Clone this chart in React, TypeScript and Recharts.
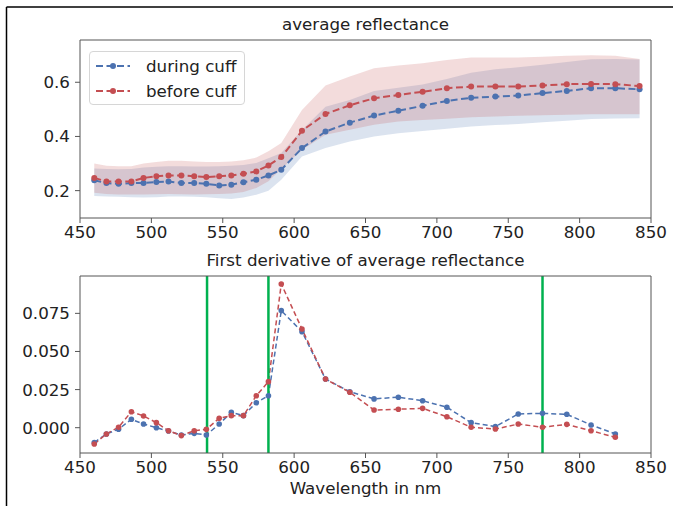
import React from 'react';
import {
	Area,
	ComposedChart,
	Line,
	ReferenceLine,
	XAxis,
	YAxis,
} from 'recharts';

// wavelengths (nm) of the sampled bands
const wavelengths = [
	460, 468.5, 477, 486, 494.5, 503.5, 512, 521, 530, 538.5, 547.5, 556, 564.5,
	573.5, 582, 591, 605.5, 622, 639, 656, 673, 690, 707, 724, 741, 757, 774,
	791, 808, 825, 842,
];

const duringMean = [
	0.238, 0.228, 0.225, 0.228, 0.228, 0.232, 0.234, 0.228, 0.228, 0.225, 0.219,
	0.222, 0.231, 0.24, 0.256, 0.277, 0.357, 0.418, 0.451, 0.477, 0.495, 0.513,
	0.531, 0.543, 0.547, 0.551, 0.56, 0.568, 0.578, 0.578, 0.574,
];
const duringHigh = [
	0.282, 0.28, 0.279, 0.28, 0.285, 0.288, 0.29, 0.29, 0.289, 0.289, 0.29,
	0.292, 0.295, 0.302, 0.32, 0.339, 0.424, 0.51, 0.535, 0.568, 0.58, 0.592,
	0.612, 0.635, 0.648, 0.655, 0.665, 0.675, 0.685, 0.686, 0.684,
];
const duringLow = [
	0.18, 0.178, 0.177, 0.176, 0.175, 0.176, 0.178, 0.178, 0.177, 0.176, 0.172,
	0.169, 0.175, 0.185, 0.2, 0.24, 0.326, 0.357, 0.381, 0.4, 0.412, 0.42,
	0.428, 0.437, 0.442, 0.446, 0.452, 0.458, 0.464, 0.466, 0.467,
];

const beforeMean = [
	0.247, 0.234, 0.234, 0.234, 0.247, 0.253, 0.256, 0.256, 0.253, 0.25, 0.253,
	0.256, 0.262, 0.271, 0.293, 0.324, 0.421, 0.483, 0.515, 0.541, 0.553, 0.565,
	0.578, 0.584, 0.584, 0.584, 0.588, 0.593, 0.594, 0.593, 0.586,
];
const beforeHigh = [
	0.3, 0.292, 0.29, 0.29, 0.3, 0.306, 0.31, 0.31, 0.308, 0.306, 0.306, 0.308,
	0.312, 0.322, 0.345, 0.376, 0.498, 0.588, 0.621, 0.652, 0.662, 0.67, 0.682,
	0.691, 0.691, 0.691, 0.694, 0.698, 0.7, 0.698, 0.686,
];
const beforeLow = [
	0.192, 0.188, 0.186, 0.186, 0.186, 0.187, 0.188, 0.187, 0.186, 0.187, 0.188,
	0.189, 0.195, 0.21, 0.235, 0.28, 0.351, 0.406, 0.425, 0.443, 0.455, 0.461,
	0.465, 0.471, 0.474, 0.476, 0.478, 0.48, 0.482, 0.482, 0.482,
];

// first derivative, one value fewer than the reflectance
const duringDeriv = [
	-0.0098, -0.0041, -0.001, 0.0055, 0.0024, 0.0, -0.0022, -0.0048, -0.0037,
	-0.0048, 0.0024, 0.0101, 0.0079, 0.0164, 0.021, 0.0768, 0.063, 0.0319,
	0.0236, 0.0189, 0.02, 0.0177, 0.0134, 0.0033, 0.0007, 0.009, 0.0094,
	0.0088, 0.0018, -0.0041,
];
const beforeDeriv = [
	-0.0107, -0.0041, 0.0003, 0.0105, 0.0077, 0.0033, -0.002, -0.0052, -0.002,
	-0.0011, 0.0062, 0.0079, 0.0079, 0.021, 0.0302, 0.0943, 0.0647, 0.0319,
	0.0232, 0.0116, 0.0121, 0.0127, 0.0072, 0.0003, -0.0009, 0.0024, 0.0003,
	0.0022, -0.002, -0.0063,
];

const markerLines = [539, 582, 774];
const xDomain = [450, 850];
const xTicks = [450, 500, 550, 600, 650, 700, 750, 800, 850];
const topDomain = [0.099, 0.756];
const topTicks = [0.2, 0.4, 0.6];
const bottomDomain = [-0.0166, 0.0995];
const bottomTicks = [0, 0.025, 0.05, 0.075];

const BLUE = '#4c72b0';
const RED = '#c44e52';
const GREEN = '#00b14f';
const SPINE = '#555';
const FONT = 'DejaVu Sans, sans-serif';
const FS = 16.7;

const series = [
	{ name: 'during cuff', color: BLUE },
	{ name: 'before cuff', color: RED },
];

const topData = wavelengths.map((w, i) => ({
	w,
	during: duringMean[i],
	before: beforeMean[i],
	duringBand: [duringLow[i], duringHigh[i]],
	beforeBand: [beforeLow[i], beforeHigh[i]],
}));

const bottomData = duringDeriv.map((d, i) => ({
	w: wavelengths[i],
	during: d,
	before: beforeDeriv[i],
}));

const tickStyle = { fontSize: FS, fill: '#222', fontFamily: FONT };

// top + right spines, drawn at the domain edges
const boxLines = (yTop: number) => [
	<ReferenceLine key="sx" x={xDomain[1]} stroke={SPINE} strokeWidth={1} />,
	<ReferenceLine key="sy" y={yTop} stroke={SPINE} strokeWidth={1} />,
];

const TopChart = () => (
	<ComposedChart
		width={673}
		height={248}
		data={topData}
		margin={{ top: 40, right: 22, bottom: 0, left: 0 }}
	>
		<XAxis
			type="number"
			dataKey="w"
			domain={xDomain}
			ticks={xTicks}
			allowDataOverflow
			height={30}
			tickSize={5}
			tickMargin={3}
			tick={tickStyle}
			stroke={SPINE}
		/>
		<YAxis
			type="number"
			domain={topDomain}
			ticks={topTicks}
			allowDataOverflow
			width={80}
			tickSize={5}
			tickMargin={5}
			tick={tickStyle}
			stroke={SPINE}
			tickFormatter={(v: number) => v.toFixed(1)}
		/>
		<Area
			type="linear"
			dataKey="duringBand"
			fill={BLUE}
			fillOpacity={0.2}
			stroke="none"
			isAnimationActive={false}
		/>
		<Area
			type="linear"
			dataKey="beforeBand"
			fill={RED}
			fillOpacity={0.2}
			stroke="none"
			isAnimationActive={false}
		/>
		<Line
			type="linear"
			dataKey="during"
			stroke={BLUE}
			strokeWidth={2}
			strokeDasharray="7 3.5"
			dot={{ r: 3, fill: BLUE, stroke: 'none' }}
			isAnimationActive={false}
		/>
		<Line
			type="linear"
			dataKey="before"
			stroke={RED}
			strokeWidth={2}
			strokeDasharray="7 3.5"
			dot={{ r: 3, fill: RED, stroke: 'none' }}
			isAnimationActive={false}
		/>
		{boxLines(topDomain[1])}
	</ComposedChart>
);

const BottomChart = () => (
	<ComposedChart
		width={673}
		height={247}
		data={bottomData}
		margin={{ top: 40, right: 22, bottom: 0, left: 0 }}
	>
		<XAxis
			type="number"
			dataKey="w"
			domain={xDomain}
			ticks={xTicks}
			allowDataOverflow
			height={30}
			tickSize={5}
			tickMargin={3}
			tick={tickStyle}
			stroke={SPINE}
		/>
		<YAxis
			type="number"
			domain={bottomDomain}
			ticks={bottomTicks}
			allowDataOverflow
			width={80}
			tickSize={5}
			tickMargin={5}
			tick={tickStyle}
			stroke={SPINE}
			tickFormatter={(v: number) => v.toFixed(3)}
		/>
		<Line
			type="linear"
			dataKey="during"
			stroke={BLUE}
			strokeWidth={1.5}
			strokeDasharray="5 3"
			dot={{ r: 2.8, fill: BLUE, stroke: 'none' }}
			isAnimationActive={false}
		/>
		<Line
			type="linear"
			dataKey="before"
			stroke={RED}
			strokeWidth={1.5}
			strokeDasharray="5 3"
			dot={{ r: 2.8, fill: RED, stroke: 'none' }}
			isAnimationActive={false}
		/>
		{markerLines.map((x) => (
			<ReferenceLine
				key={x}
				x={x}
				stroke={GREEN}
				strokeWidth={2.5}
			/>
		))}
		{boxLines(bottomDomain[1])}
	</ComposedChart>
);

const LegendBox = () => (
	<div
		style={{
			position: 'absolute',
			left: 89,
			top: 51,
			width: 156,
			height: 54,
			border: '1px solid #d6d6d6',
			borderRadius: 4,
			background: 'rgba(255,255,255,0.8)',
			boxSizing: 'border-box',
			fontFamily: FONT,
			fontSize: FS,
			color: '#222',
		}}
	>
		{series.map((s, i) => (
			<div
				key={s.name}
				style={{
					position: 'absolute',
					left: 5,
					top: 3 + i * 25,
					height: 22,
					display: 'flex',
					alignItems: 'center',
					whiteSpace: 'nowrap',
				}}
			>
				<svg width={36} height={22} style={{ marginRight: 15 }}>
					<line
						x1={1}
						y1={11}
						x2={35}
						y2={11}
						stroke={s.color}
						strokeWidth={2}
						strokeDasharray="7 3.5"
					/>
					<circle cx={18} cy={11} r={3} fill={s.color} />
				</svg>
				<span>{s.name}</span>
			</div>
		))}
	</div>
);

export default function App() {
	return (
		<div
			style={{
				position: 'absolute',
				left: 0,
				top: 0,
				width: 673,
				height: 506,
				background: '#fff',
				overflow: 'hidden',
			}}
		>
			<div style={{ position: 'absolute', left: 0, top: 0 }}>
				<TopChart />
			</div>
			<div style={{ position: 'absolute', left: 0, top: 236 }}>
				<BottomChart />
			</div>
			<LegendBox />
			<svg
				width={673}
				height={506}
				style={{ position: 'absolute', left: 0, top: 0, pointerEvents: 'none' }}
			>
				<line x1={6.5} y1={7} x2={673} y2={7} stroke="#000" strokeWidth={1.5} />
				<line x1={6.5} y1={7} x2={6.5} y2={506} stroke="#000" strokeWidth={1.5} />
				<text
					x={365.5}
					y={29.5}
					textAnchor="middle"
					fontFamily={FONT}
					fontSize={FS}
					fill="#222"
				>
					average reflectance
				</text>
				<text
					x={365.5}
					y={266}
					textAnchor="middle"
					fontFamily={FONT}
					fontSize={FS}
					fill="#222"
				>
					First derivative of average reflectance
				</text>
				<text
					x={365.5}
					y={494}
					textAnchor="middle"
					fontFamily={FONT}
					fontSize={FS}
					fill="#222"
				>
					Wavelength in nm
				</text>
			</svg>
		</div>
	);
}
